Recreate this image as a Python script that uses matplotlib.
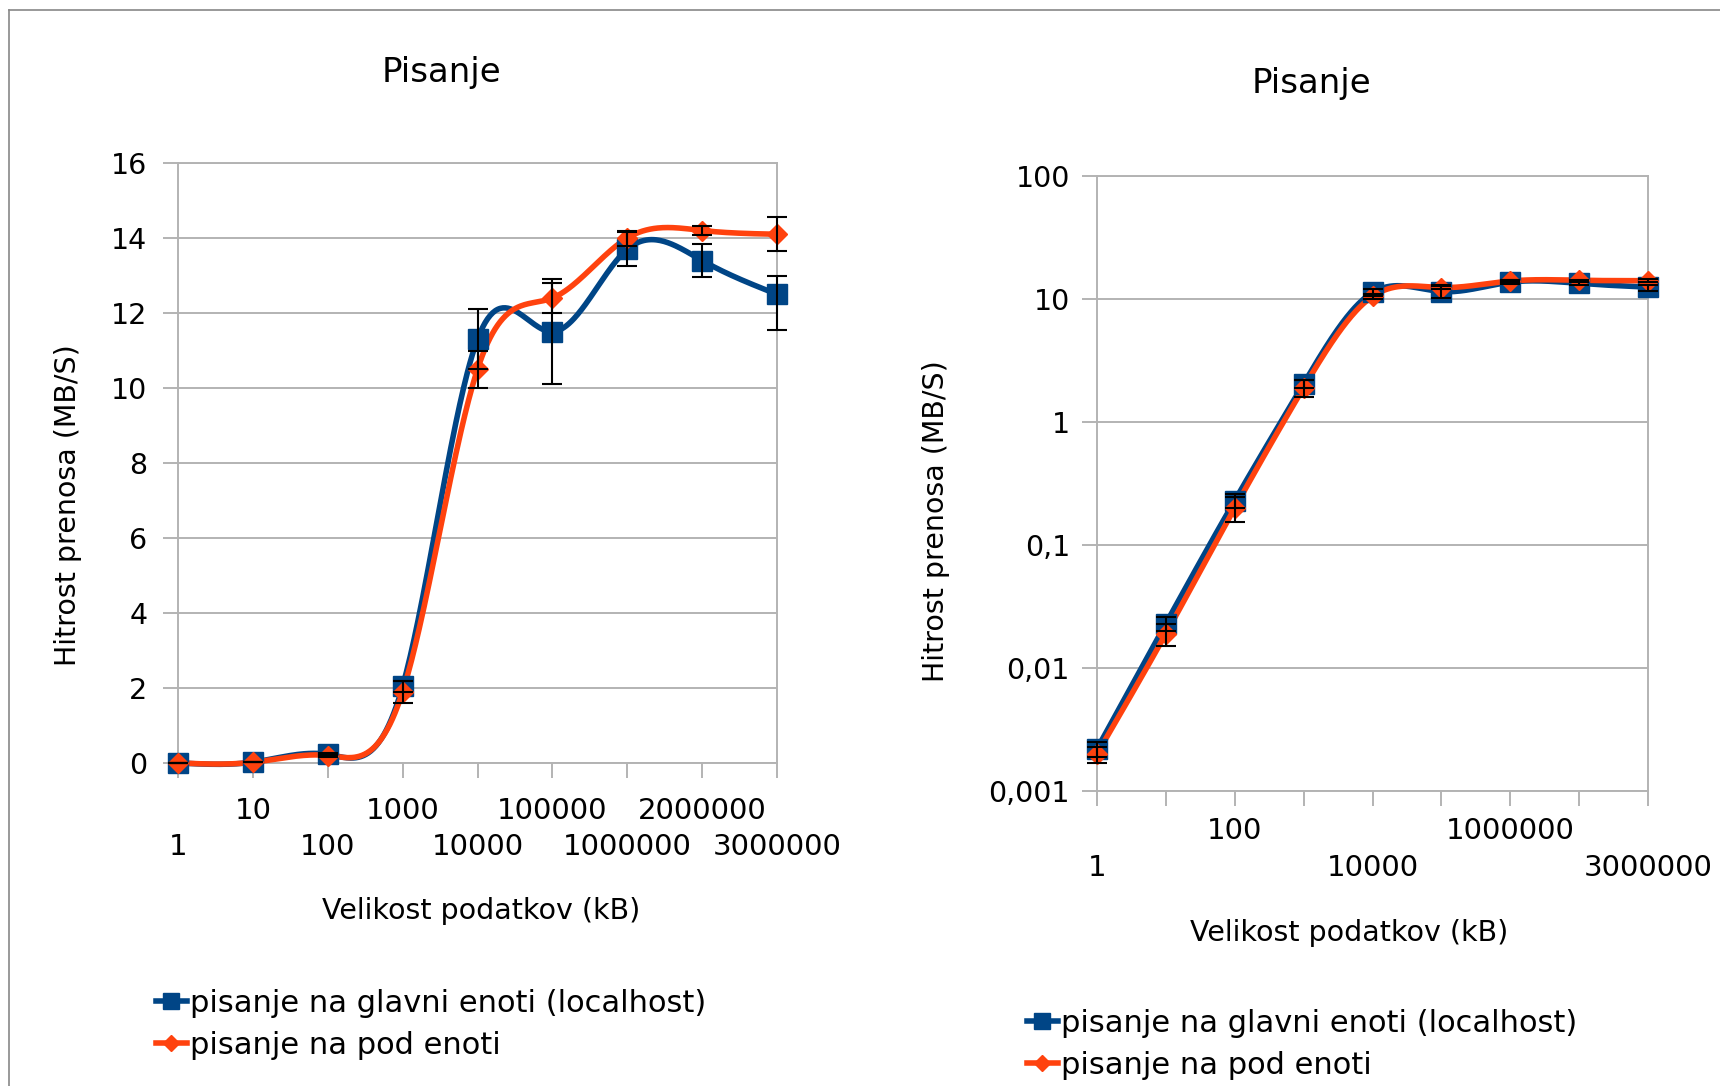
import numpy as np
import matplotlib
matplotlib.use("Agg")
import matplotlib.pyplot as plt
from matplotlib.lines import Line2D

# data (transfer speed in MB/s per data size in kB)
sizes = ['1', '10', '100', '1000', '10000', '100000', '1000000', '2000000', '3000000']
glavni = [0.0022, 0.023, 0.23, 2.05, 11.3, 11.5, 13.7, 13.4, 12.5]
glavni_err_lo = [0.0003, 0.003, 0.03, 0.15, 0.8, 1.4, 0.45, 0.45, 0.95]
glavni_err_hi = [0.0003, 0.003, 0.03, 0.15, 0.8, 1.4, 0.45, 0.45, 0.5]
pod = [0.002, 0.019, 0.2, 1.9, 10.5, 12.4, 14.0, 14.2, 14.1]
pod_err = [0.0003, 0.004, 0.045, 0.3, 0.5, 0.4, 0.2, 0.12, 0.45]

lin_ticks = [0, 2, 4, 6, 8, 10, 12, 14, 16]
log_ticks = [0.001, 0.01, 0.1, 1, 10, 100]
log_labels = ['0,001', '0,01', '0,1', '1', '10', '100']

series_names = ['pisanje na glavni enoti (localhost)', 'pisanje na pod enoti']
title = 'Pisanje'
xlab = 'Velikost podatkov (kB)'
ylab = 'Hitrost prenosa (MB/S)'

BLUE = '#004586'
ORANGE = '#ff420e'
GRAY = '#b3b3b3'
W, H = 1720, 1086

plt.rcParams['font.family'] = ['DejaVu Sans']


def natural_spline(y, n=60):
    '''
    Natural cubic spline through equally spaced points (as the office chart draws it)
    '''
    y = np.asarray(y, dtype=float)
    k = len(y)
    A = np.zeros((k, k))
    d = np.zeros(k)
    A[0, 0] = A[-1, -1] = 1
    for i in range(1, k - 1):
        A[i, i - 1], A[i, i], A[i, i + 1] = 1, 4, 1
        d[i] = 6 * (y[i + 1] - 2 * y[i] + y[i - 1])
    M = np.linalg.solve(A, d)
    xs, ys = [], []
    for i in range(k - 1):
        t = np.linspace(0, 1, n)
        s = ((1 - t) * y[i] + t * y[i + 1]
             + ((1 - t) ** 3 - (1 - t)) * M[i] / 6 + (t ** 3 - t) * M[i + 1] / 6)
        xs.append(i + t)
        ys.append(s)
    return np.concatenate(xs), np.concatenate(ys)


def px(x, y):
    return x / W, 1 - y / H


def draw_panel(ax, log, label_rows, ypad):
    idx = np.arange(len(sizes))
    for vals, color, marker, ms in [(glavni, BLUE, 's', 15), (pod, ORANGE, 'D', 10)]:
        if log:
            xs, ys = natural_spline(np.log10(vals))
            ys = 10 ** ys
        else:
            xs, ys = natural_spline(vals)
        ax.plot(xs, ys, color=color, lw=4, solid_capstyle='round', zorder=3, clip_on=False)
        ax.plot(idx, vals, ls='none', marker=marker, ms=ms, color=color, zorder=4, clip_on=False)
    for vals, err in [(glavni, [glavni_err_lo, glavni_err_hi]), (pod, pod_err)]:
        eb = ax.errorbar(idx, vals, yerr=err, fmt='none', ecolor='k', elinewidth=1.5,
                         capsize=7, capthick=1.5, zorder=5)
        for art in eb.lines[1] + eb.lines[2]:
            art.set_clip_on(False)

    ax.set_xlim(0, len(sizes) - 1)
    if log:
        ax.set_yscale('log')
        ax.set_ylim(0.001, 100)
        ax.set_yticks(log_ticks)
        ax.set_yticklabels(log_labels)
        ax.yaxis.set_minor_locator(matplotlib.ticker.NullLocator())
    else:
        ax.set_ylim(0, 16)
        ax.set_yticks(lin_ticks)
    ax.set_xticks(idx)
    ax.set_xticklabels([])
    ax.grid(axis='y', color=GRAY, lw=1.4)
    ax.set_axisbelow(True)
    for sp in ax.spines.values():
        sp.set_color(GRAY)
        sp.set_linewidth(1.4)
    ax.tick_params(axis='both', direction='out', length=11, width=1.4, color=GRAY)
    ax.tick_params(axis='y', labelsize=20.5, pad=ypad)

    # staggered category labels
    for i, row in label_rows.items():
        ax.annotate(sizes[i], xy=(i, 0), xycoords=('data', 'axes fraction'),
                    xytext=(0, -row), textcoords='offset pixels',
                    ha='center', va='center', fontsize=21, annotation_clip=False)


fig = plt.figure(figsize=(W / 100, H / 100), dpi=100)

# left: linear scale
ax1 = fig.add_axes([178 / W, 1 - 763 / H, 599 / W, 600 / H])
rows1 = {i: (84 if i % 2 == 0 else 48) for i in range(9)}
draw_panel(ax1, False, rows1, 11)

# right: log scale
ax2 = fig.add_axes([1097 / W, 1 - 791 / H, 551 / W, 615 / H])
rows2 = {0: 77, 2: 40, 4: 77, 6: 40, 8: 77}
draw_panel(ax2, True, rows2, 8.5)

# titles and axis labels
fig.text(*px(441, 72), title, ha='center', va='center', fontsize=24.5)
fig.text(*px(1311, 84), title, ha='center', va='center', fontsize=24.5)
fig.text(*px(481, 911), xlab, ha='center', va='center', fontsize=20.5)
fig.text(*px(1349, 933), xlab, ha='center', va='center', fontsize=20.5)
fig.text(*px(68, 505), ylab, ha='center', va='center', rotation=90, fontsize=20.5)
fig.text(*px(936, 521), ylab, ha='center', va='center', rotation=90, fontsize=20.5)

# legends
handles = [Line2D([], [], color=BLUE, lw=4, marker='s', ms=12),
           Line2D([], [], color=ORANGE, lw=4, marker='D', ms=8)]
for ax, (lx, ly) in [(ax1, (156, 989)), (ax2, (1027, 1009))]:
    ax.legend(handles, series_names, loc='upper left', bbox_to_anchor=px(lx, ly),
              bbox_transform=fig.transFigure, frameon=False, fontsize=22,
              handlelength=1.0, handletextpad=0.1, labelspacing=0.42,
              borderpad=0, borderaxespad=0)

# outer frame of the chart object
fig.add_artist(Line2D([9 / W, 1], [1 - 10 / H, 1 - 10 / H], color='#888888', lw=1.2))
fig.add_artist(Line2D([9 / W, 9 / W], [0, 1 - 10 / H], color='#888888', lw=1.2))

fig.savefig('out.png', dpi=100)
